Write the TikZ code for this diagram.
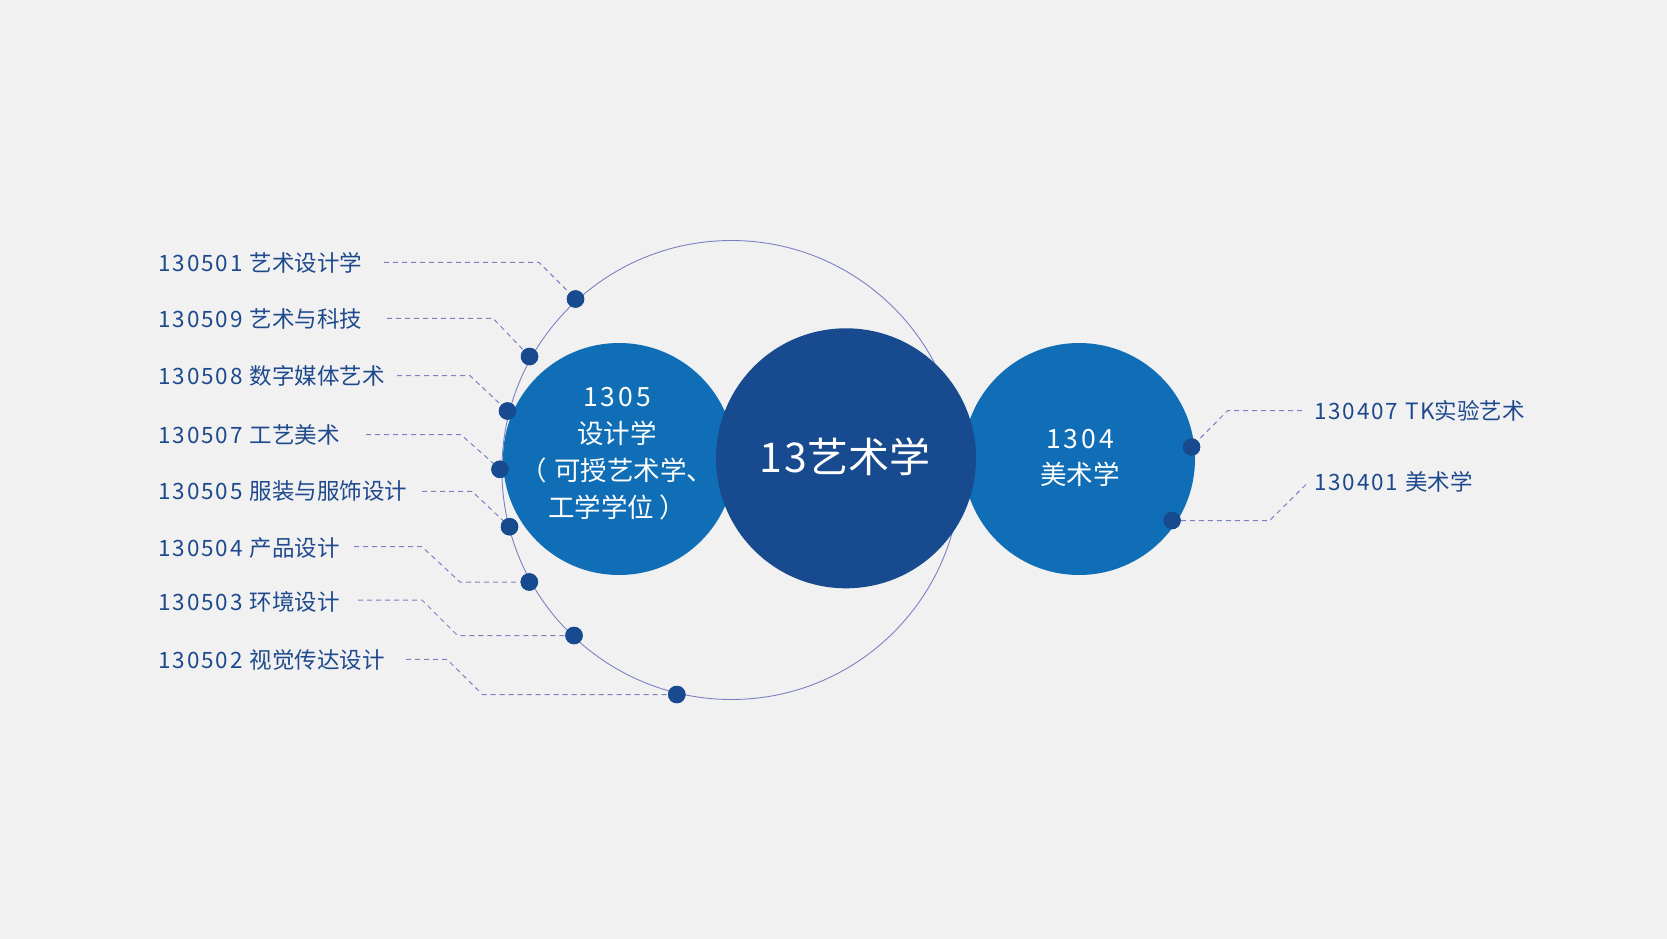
\documentclass[tikz,border=0pt]{standalone}
\usepackage{fontspec}
\setmainfont{Noto Sans CJK SC}
\newfontfamily\digfont[LetterSpace=8]{Noto Sans CJK SC}
\newfontfamily\digfontwide[LetterSpace=11]{Noto Sans CJK SC}
\newfontfamily\digfontbig[LetterSpace=6]{Noto Sans CJK SC}
\newcommand{\dg}[1]{{\digfont #1}\hspace{7pt}}
\usetikzlibrary{calc}
\definecolor{bg}{HTML}{F1F1F1}
\definecolor{midblue}{HTML}{106EB7}
\definecolor{darkblue}{HTML}{174A8E}
\definecolor{txtblue}{HTML}{1E4A8D}
\definecolor{lineviolet}{HTML}{7C80C4}
\begin{document}
\begin{tikzpicture}[x=1pt,y=-1pt,
  item/.style={anchor=west, inner sep=0pt, text=txtblue, font=\fontsize{22.5}{26}\selectfont},
  dotnode/.style={circle, fill=darkblue, minimum size=17.5pt, inner sep=0pt},
  link/.style={draw=lineviolet, dash pattern=on 5pt off 4pt, line width=1pt},
  bigc/.style={circle, inner sep=0pt},
  intext/.style={text=white, align=center, inner sep=0pt}
]
\fill[bg] (0,0) rectangle (1667,939);
\useasboundingbox (0,0) rectangle (1667,939);

% outline ring
\node[circle, draw=lineviolet, line width=0.9pt, minimum size=459pt, inner sep=0pt] (ring) at (731.4,470) {};

% left list texts
\node[item] (t1) at (158.5,263) {\dg{130501}艺术设计学};
\node[item] (t2) at (158.5,319) {\dg{130509}艺术与科技};
\node[item] (t3) at (158.5,376) {\dg{130508}数字媒体艺术};
\node[item] (t4) at (158.5,434.5) {\dg{130507}工艺美术};
\node[item] (t5) at (158.5,491.5) {\dg{130505}服装与服饰设计};
\node[item] (t6) at (158.5,548) {\dg{130504}产品设计};
\node[item] (t7) at (158.5,602) {\dg{130503}环境设计};
\node[item] (t8) at (158.5,660) {\dg{130502}视觉传达设计};
% right list texts
\node[item] (t9) at (1314,410.5) {\dg{130407}{\digfont TK}实验艺术};
\node[item] (t10) at (1314,482) {\dg{130401}美术学};

% dots
\node[dotnode] (d1) at (575.5,299) {};
\node[dotnode] (d2) at (529.5,356.5) {};
\node[dotnode] (d3) at (507.5,411) {};
\node[dotnode] (d4) at (500,469.3) {};
\node[dotnode] (d5) at (509.5,526.7) {};
\node[dotnode] (d6) at (529.3,582) {};
\node[dotnode] (d7) at (574,635.5) {};
\node[dotnode] (d8) at (676.8,694.5) {};
\node[dotnode] (d9) at (1191.5,447) {};
\node[dotnode] (d10) at (1172,520.5) {};

% connector coordinates
\coordinate (s1) at (384,262.3);  \coordinate (b1) at (539,262.3);
\coordinate (s2) at (387,318.3);  \coordinate (b2) at (493,318.3);
\coordinate (s3) at (397,375.7);  \coordinate (b3) at (470,375.7);
\coordinate (s4) at (366,434.7);  \coordinate (b4) at (461,434.7);
\coordinate (s5) at (422,491.3);  \coordinate (b5) at (472,491.3);
\coordinate (s6) at (354,546.7);  \coordinate (b6) at (422,546.7); \coordinate (c6) at (460,582);
\coordinate (s7) at (358,600);    \coordinate (b7) at (422,600);   \coordinate (c7) at (457.5,635.5);
\coordinate (s8) at (406,659.3);  \coordinate (b8) at (447,659.3); \coordinate (c8) at (482.5,694.5);
\coordinate (s9) at (1302,410.7); \coordinate (b9) at (1227.5,410.7);
\coordinate (c10) at (1269.6,520.5); \coordinate (s10) at (1306,484.5);

\draw[link] (s1) -- (b1) -- (d1);
\draw[link] (s2) -- (b2) -- (d2);
\draw[link] (s3) -- (b3) -- (d3);
\draw[link] (s4) -- (b4) -- (d4);
\draw[link] (s5) -- (b5) -- (d5);
\draw[link] (s6) -- (b6) -- (c6) -- (d6);
\draw[link] (s7) -- (b7) -- (c7) -- (d7);
\draw[link] (s8) -- (b8) -- (c8) -- (d8);
\draw[link] (s9) -- (b9) -- (d9);
\draw[link] (s10) -- (c10) -- (d10);

% main circles
\node[bigc, fill=midblue, minimum size=232pt] (c1305) at (619,459) {};
\node[bigc, fill=midblue, minimum size=232pt] (c1304) at (1079,459) {};
\node[bigc, fill=darkblue, minimum size=260pt] (c13) at (846,458.3) {};

\node[intext, font=\fontsize{26.5}{37}\selectfont] (l1305) at (617,454) {{\digfontwide 1305}\\设计学\\（\hspace{7pt}可授艺术学、\\工学学位\hspace{5pt}）};
\node[intext, font=\fontsize{26.5}{36}\selectfont] (l1304) at (1080,458) {{\digfontwide 1304}\\美术学};
\node[intext, font=\fontsize{41}{48}\selectfont] (l13) at (845,457) {{\digfontbig 13}艺术学};

% redraw dots on top of circles
\foreach \d in {d1,d2,d3,d4,d5,d6,d7,d8,d9,d10}{
  \fill[darkblue] (\d) circle (8.75pt);
}
\end{tikzpicture}
\end{document}
